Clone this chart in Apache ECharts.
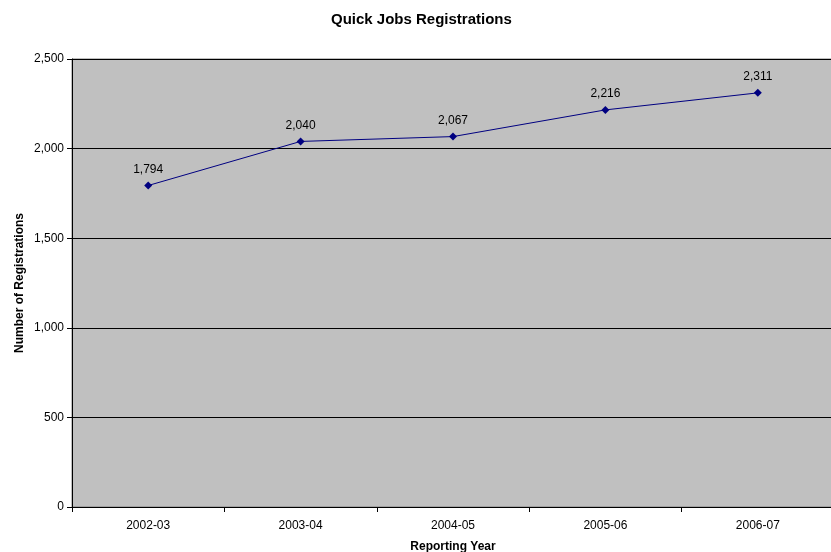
<!DOCTYPE html>
<html><head><meta charset="utf-8">
<script src="https://cdn.jsdelivr.net/npm/echarts@6/dist/echarts.min.js"></script>
<style>html,body{margin:0;padding:0;background:#fff}#c{width:831px;height:552px}</style>
</head><body><div id="c"></div>
<script>
const categories = ['2002-03','2003-04','2004-05','2005-06','2006-07'];
const registrations = [1794, 2040, 2067, 2216, 2311];
const titleText = 'Quick Jobs Registrations';
const xName = 'Reporting Year';
const yName = 'Number of Registrations';
const font = '"Liberation Sans", Arial, sans-serif';
const chart = echarts.init(document.getElementById('c'));
const fmt = v => v.toLocaleString('en-US');
chart.setOption({
  animation: false,
  title: { text: titleText, left: 326, top: 7, textStyle: { fontFamily: font, fontSize: 15, fontWeight: 'bold', color: '#000' } },
  grid: { left: 72, right: -3, top: 59, bottom: 45, outerBoundsMode: 'none', containLabel: false, show: true, backgroundColor: '#C0C0C0', borderColor: '#808080', borderWidth: 1 },
  xAxis: {
    type: 'category', data: categories, boundaryGap: true,
    name: xName, nameLocation: 'middle', nameGap: 34, nameMoveOverlap: false,
    nameTextStyle: { fontFamily: font, fontSize: 12, fontWeight: 'bold', color: '#000' },
    axisLine: { lineStyle: { color: '#000', width: 1 } },
    axisTick: { show: true, alignWithLabel: false, length: 5, lineStyle: { color: '#000' } },
    axisLabel: { fontFamily: font, fontSize: 12, color: '#000', margin: 13 }
  },
  yAxis: {
    type: 'value', min: 0, max: 2500, interval: 500,
    name: yName, nameLocation: 'middle', nameGap: 46, nameRotate: 90, nameMoveOverlap: false,
    nameTextStyle: { fontFamily: font, fontSize: 12, fontWeight: 'bold', color: '#000' },
    axisLine: { show: true, lineStyle: { color: '#000', width: 1 } },
    axisTick: { show: true, length: 5, lineStyle: { color: '#000' } },
    axisLabel: { fontFamily: font, fontSize: 12, color: '#000', margin: 8, formatter: v => fmt(v) },
    splitLine: { show: true, lineStyle: { color: '#000', width: 1 } }
  },
  series: [{
    type: 'line', data: registrations,
    symbol: 'diamond', symbolSize: 8,
    lineStyle: { color: '#000080', width: 1 },
    itemStyle: { color: '#000080' },
    label: { show: true, position: 'top', distance: 6, fontFamily: font, fontSize: 12, color: '#000', formatter: p => fmt(p.value) }
  }]
});
</script></body></html>
